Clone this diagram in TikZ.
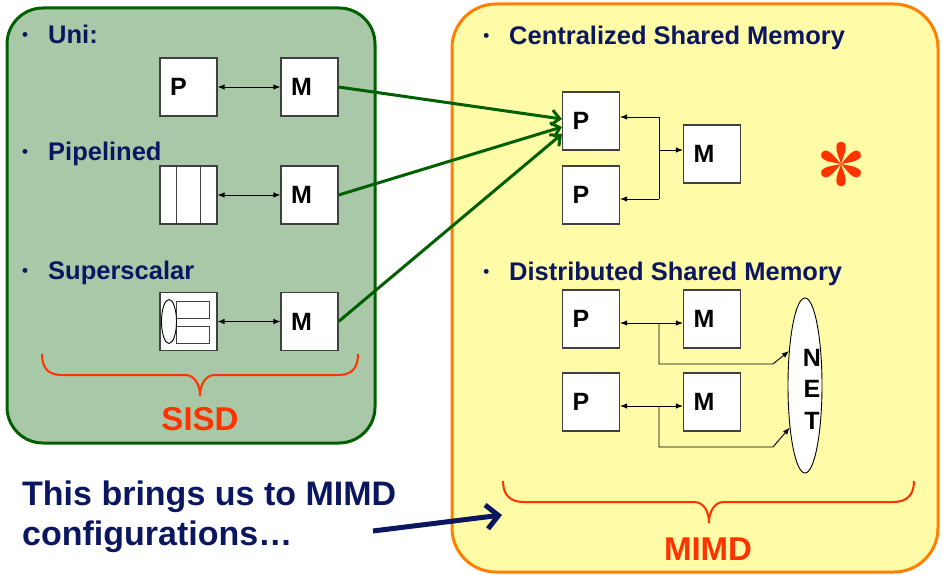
\documentclass[tikz,border=0pt]{standalone}
\usepackage{fontspec}
\setmainfont{Liberation Sans}
\usetikzlibrary{arrows.meta,shapes.geometric}
\definecolor{gfill}{RGB}{168,200,168}
\definecolor{gborder}{RGB}{0,96,0}
\definecolor{yfill}{RGB}{255,251,166}
\definecolor{oborder}{RGB}{255,128,0}
\definecolor{redt}{RGB}{255,51,0}
\definecolor{navy}{RGB}{10,22,96}
\definecolor{boxgray}{RGB}{64,64,64}
\definecolor{dgreen}{RGB}{0,96,0}
\begin{document}
\begin{tikzpicture}[x=1pt,y=-1pt,
  box/.style={draw=boxgray, line width=1.2pt, fill=white, minimum width=57pt, minimum height=58pt,
    inner xsep=10pt, inner ysep=0pt, text width=37pt, align=left, font=\fontsize{25}{25}\selectfont\bfseries},
  dbl/.style={{Latex[length=7pt,width=5.5pt]}-{Latex[length=7pt,width=5.5pt]}, line width=0.9pt, draw=black},
  arr/.style={-{Latex[length=7pt,width=5.5pt]}, line width=0.9pt, draw=black},
  ln/.style={line width=0.9pt, draw=black},
  garr/.style={draw=dgreen, line width=3pt, -{Straight Barb[length=8pt,width=15pt]}},
  head/.style={anchor=base west, text=navy, inner sep=0pt, font=\fontsize{25.5}{25.5}\selectfont\bfseries},
  big/.style={anchor=base west, text=navy, inner sep=0pt, font=\fontsize{34}{34}\selectfont\bfseries},
  redlbl/.style={text=redt, inner sep=0pt, font=\fontsize{33}{33}\selectfont\bfseries},
  brace/.style={draw=redt, line width=2pt},
  petal/.style={fill=redt}
]
\useasboundingbox (0,0) rectangle (943,575);
\newcommand{\bul}{\llap{\fontsize{17}{17}\selectfont\raisebox{3pt}{•}\hspace{20pt}}}

% panels
\draw[fill=gfill, draw=gborder, line width=3pt, rounded corners=36pt] (7,8) rectangle (375,443);
\draw[fill=yfill, draw=oborder, line width=3pt, rounded corners=44pt] (452,4) rectangle (938,572);

% left headings
\node[head] (uni) at (48,44) {\bul Uni:};
\node[head] (pipe) at (48,161) {\bul Pipelined};
\node[head] (sup) at (48,279) {\bul Superscalar};

% Uni
\node[box] (P0) at (188.5,87) {P};
\node[box] (M0) at (309.5,87) {M};
\draw[dbl] (P0.east) -- (M0.west);

% Pipelined
\node[box] (PP) at (188.5,195) {};
\draw[draw=boxgray, line width=1pt] (176.5,166) -- (176.5,224) (200.5,166) -- (200.5,224);
\node[box] (M1) at (309.5,195) {M};
\draw[dbl] (PP.east) -- (M1.west);

% Superscalar
\node[box] (PS) at (188.5,321.5) {};
\draw[draw=boxgray, line width=1pt, fill=white] (176.5,301) rectangle (209,318);
\draw[draw=boxgray, line width=1pt, fill=white] (176.5,326) rectangle (209,343);
\draw[draw=black, line width=0.9pt, fill=white] (169,321.5) ellipse [x radius=7.5, y radius=22];
\node[box] (M2) at (309.5,321.5) {M};
\draw[dbl] (PS.east) -- (M2.west);

% SISD brace
\draw[brace] (42,354) .. controls (42,368) and (48,375) .. (62,375) -- (185,375)
  .. controls (195,375) and (200,385) .. (200,396)
  .. controls (200,385) and (205,375) .. (215,375) -- (338,375)
  .. controls (352,375) and (358,368) .. (358,354);
\node[redlbl] (sisd) at (200,419) {SISD};

% right headings
\node[head] (cent) at (509,45) {\bul Centralized Shared Memory};
\node[head] (dist) at (509,280) {\bul Distributed Shared Memory};

% Centralized
\node[box] (P1) at (591,121) {P};
\node[box] (P2) at (591,195) {P};
\node[box] (Mc) at (712,154) {M};
\coordinate (j1) at (659,117);
\coordinate (j2) at (659,199);
\coordinate (j3) at (659,150);
\draw[ln] (j1) -- (j2);
\draw[arr] (j1) -- (P1.east |- j1);
\draw[arr] (j2) -- (P2.east |- j2);
\draw[arr] (j3) -- (Mc.west |- j3);

% asterisk
\begin{scope}[shift={(841,164)}]
\foreach \a in {0,60,120,180,240,300}{
  \fill[petal, rotate=\a] (0,0) .. controls (-1.5,-6) and (-5.2,-12) .. (-4.6,-17.5)
    .. controls (-4.2,-24) and (4.2,-24) .. (4.6,-17.5)
    .. controls (5.2,-12) and (1.5,-6) .. (0,0) -- cycle;
}
\end{scope}

% Distributed
\node[box] (P3) at (591,319) {P};
\node[box] (M3) at (712,319) {M};
\node[box] (P4) at (591,402) {P};
\node[box] (M4) at (712,402) {M};
\node[ellipse, draw=black, line width=0.9pt, fill=white, minimum width=34pt, minimum height=175pt, inner sep=0pt] (NET) at (805,385.5) {};
\node[inner sep=0pt, align=center, font=\fontsize{25}{31.5}\selectfont\bfseries] (nettxt) at (812,389) {N\\E\\T};
\coordinate (d1) at (659,323);
\coordinate (d2) at (659,406);
\draw[dbl] (P3.east |- d1) -- (M3.west |- d1);
\draw[dbl] (P4.east |- d2) -- (M4.west |- d2);
\draw[arr] (d1) -- (659,364) -- (773,364) -- (NET.115);
\draw[arr] (d2) -- (659,447) -- (773,447) -- (NET.250);

% MIMD brace
\draw[brace] (503,481) .. controls (503,495) and (510,502) .. (524,502) -- (694,502)
  .. controls (704,502) and (709,512) .. (709,523)
  .. controls (709,512) and (714,502) .. (724,502) -- (893,502)
  .. controls (907,502) and (914,495) .. (914,481);
\node[redlbl] (mimd) at (708,549) {MIMD};

% green arrows
\draw[garr] (M0.east) -- ([yshift=2pt]P1.west);
\draw[garr] (M1.east) -- ([yshift=-6pt]P1.west);
\draw[garr] (M2.east) -- ([yshift=-13pt]P1.west);

% bottom text
\node[big] (t1) at (22,505) {This brings us to MIMD};
\node[big] (t2) at (22,545) {configurations…};
\coordinate (nstart) at (373,531);
\coordinate (nend) at (502,515);
\draw[draw=navy, line width=5pt, -{Straight Barb[length=12pt,width=24pt]}] (nstart) -- (nend);
\end{tikzpicture}
\end{document}
